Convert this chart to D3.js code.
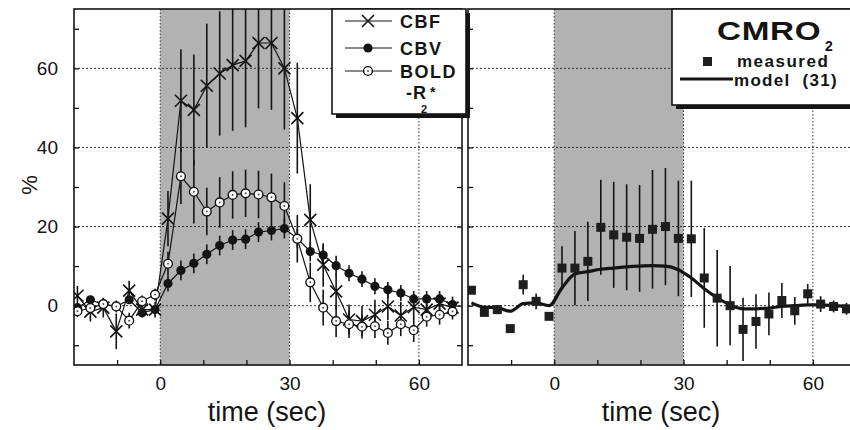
<!DOCTYPE html>
<html>
<head>
<meta charset="utf-8">
<script src="https://cdn.jsdelivr.net/npm/d3@7"></script>
<style>
  body { margin: 0; background: #fff; }
  svg { display: block; font-family: "Liberation Sans", Arial, sans-serif; }
  .tick line { stroke: #111; stroke-width: 1.3; }
  .tick text { fill: #111; font-size: 19px; }
</style>
</head>
<body>
<svg width="850" height="430"></svg>
<script>
// sample times (sec), shared by both panels
const times = [-19.2, -16.2, -13.2, -10.2, -7.2, -4.2, -1.2, 1.8, 4.8, 7.8, 10.8, 13.8, 16.8, 19.8, 22.8,
  25.8, 28.8, 31.8, 34.8, 37.8, 40.8, 43.8, 46.8, 49.8, 52.8, 55.8, 58.8, 61.8, 64.8, 67.8];

const cbf = [2.5, -1.5, -0.5, -6.5, 3.8, -1.0, -1.0, 22, 51.8, 49.5, 55.6, 58.7, 60.8, 61.9, 66.4,
  66.4, 60, 47.4, 21.7, 10.3, 3.6, -3.5, -3.9, -2.3, -0.2, -2.5, -0.4, -1.0, 0.5, -0.5];
const cbfErr = [2.5, 2.5, 2.5, 4.5, 2.5, 2, 2, 7, 13, 14, 15.7, 15.7, 16.6, 16.8, 16.5,
  16.9, 15.5, 14, 9, 5.5, 4.5, 3.8, 3.8, 3.8, 3.5, 3.5, 3, 3, 2.5, 2];

const cbv = [-0.5, 1.5, 0.3, -0.2, 1.5, -1.8, -1.0, 5.6, 8.9, 10.7, 13.0, 15.2, 16.6, 16.8, 18.6,
  19.0, 19.5, 17.0, 13.7, 12.8, 10.1, 8.2, 6.7, 4.9, 4.0, 3.2, 1.7, 1.7, 1.7, 0.3];
const cbvErr = [1, 1, 1, 1, 1, 1, 1, 2, 2.5, 2.5, 2.5, 2.5, 2.5, 2.5, 2.5,
  2.5, 2.5, 2.5, 2.5, 2.5, 2.5, 2, 2, 2, 2, 2, 2, 2, 2, 2];

const bold = [-1.4, -0.6, 0.4, -0.2, -3.8, 1.1, 2.8, 10.6, 32.7, 28.8, 23.8, 26.1, 28.0, 28.4, 28.1,
  27.4, 25.2, 16.9, 5.9, -0.5, -3.9, -4.7, -5.3, -5.2, -6.9, -4.7, -6.2, -2.8, -2.3, -1.5];
const boldErr = [1.5, 1.5, 1.5, 1.5, 2, 1.5, 1.5, 3, 7, 8, 6, 6.4, 6, 6, 6,
  6, 6, 6, 5, 4.5, 4, 3.5, 3, 3, 3, 3, 3, 2.5, 2.5, 2];

const cmro = [3.9, -1.7, -1.0, -5.8, 5.3, 1.1, -2.7, 9.5, 9.5, 11.2, 19.8, 17.9, 17.3, 17.0, 19.3,
  20.0, 17.0, 16.9, 7.0, 1.9, 0, -6.0, -4.0, -2.1, 1.3, -1.3, 3.0, 0.4, -0.2, -0.8];
const cmroErr = [0, 0, 0, 0, 2.5, 2, 0, 5.5, 9.4, 10, 12, 13.4, 13.4, 13.5, 15,
  14.8, 14.6, 14.7, 12.6, 12.2, 10, 8, 6.9, 5.4, 4.4, 3.5, 2.5, 2, 1.5, 1.5];
const cmroModel = [0.7, -0.4, -0.5, -1.4, 0.5, 0.7, 0.0, 4.5, 8.0, 8.6, 9.2, 9.5, 9.8, 10.0, 10.1,
  10.0, 9.1, 7.0, 4.3, 2.0, 0.2, -0.8, -0.8, -0.6, -0.2, 0.0, 0.2, 0.2, 0.0, -0.2];

const xTicks = [-10, 0, 10, 20, 30, 40, 50, 60];
const xLabels = [0, 30, 60];
const yTicks = [-10, 0, 10, 20, 30, 40, 50, 60, 70];
const yLabels = [0, 20, 40, 60];

const ink = "#141414";
const svg = d3.select("svg");
const plotTop = 9, plotBottom = 365;

const y = d3.scaleLinear().domain([-15, 75]).range([plotBottom, plotTop]);
const xL = d3.scaleLinear().domain([-20, 70]).range([74, 462]);
const xR = d3.scaleLinear().domain([-20, 70]).range([468, 856]);

const defs = svg.append("defs");

function panel(x, showY, id) {
  const [x0, x1] = x.range();
  defs.append("clipPath").attr("id", id)
    .append("rect").attr("x", x0).attr("y", plotTop).attr("width", x1 - x0).attr("height", plotBottom - plotTop);

  const g = svg.append("g");
  // stimulus block
  g.append("rect")
    .attr("x", x(0)).attr("y", plotTop)
    .attr("width", x(30) - x(0)).attr("height", plotBottom - plotTop)
    .attr("fill", "#b2b2b2");
  // dotted grid
  g.selectAll(".hg").data(yLabels).enter().append("line")
    .attr("x1", x0).attr("x2", x1)
    .attr("y1", d => y(d)).attr("y2", d => y(d))
    .attr("stroke", "#333").attr("stroke-width", 1).attr("stroke-dasharray", "2,2");
  g.selectAll(".vg").data(xLabels).enter().append("line")
    .attr("x1", d => x(d)).attr("x2", d => x(d))
    .attr("y1", plotTop).attr("y2", plotBottom)
    .attr("stroke", "#333").attr("stroke-width", 1).attr("stroke-dasharray", "1.5,2");

  g.append("g")
    .attr("transform", `translate(0,${plotBottom})`)
    .call(d3.axisBottom(x).tickValues(xTicks).tickSize(-5).tickPadding(12)
      .tickFormat(d => xLabels.includes(d) ? d : ""))
    .call(a => a.select(".domain").remove());
  g.append("g")
    .attr("transform", `translate(${x0},0)`)
    .call(d3.axisLeft(y).tickValues(yTicks).tickSize(-5).tickPadding(16)
      .tickFormat(d => showY && yLabels.includes(d) ? d : ""))
    .call(a => a.select(".domain").remove());
  g.append("g")
    .attr("transform", `translate(${x1},0)`)
    .call(d3.axisRight(y).tickValues(yTicks).tickSize(-5).tickFormat(""))
    .call(a => a.select(".domain").remove());

  g.append("text")
    .attr("x", (x0 + x1) / 2 - 1).attr("y", 421)
    .attr("text-anchor", "middle").attr("font-size", 27).attr("fill", ink)
    .text("time (sec)");

  return svg.append("g").attr("clip-path", `url(#${id})`);
}

const gL = panel(xL, true, "clipL");
const gR = panel(xR, false, "clipR");

svg.append("text")
  .attr("transform", "translate(37,185) rotate(-90)")
  .attr("text-anchor", "middle").attr("font-size", 22).attr("fill", ink)
  .text("%");

// ---- series helpers ----
function errBars(g, x, vals, errs, w) {
  g.append("g").selectAll("line").data(times).enter().append("line")
    .attr("x1", d => x(d)).attr("x2", d => x(d))
    .attr("y1", (d, i) => y(vals[i] + errs[i]))
    .attr("y2", (d, i) => y(vals[i] - errs[i]))
    .attr("stroke", ink).attr("stroke-width", w);
}
function seriesLine(g, x, vals, w, curve) {
  const line = d3.line().x(d => x(d[0])).y(d => y(d[1]));
  if (curve) line.curve(curve);
  g.append("path").datum(times.map((t, i) => [t, vals[i]]))
    .attr("d", line).attr("fill", "none")
    .attr("stroke", ink).attr("stroke-width", w).attr("stroke-linejoin", "round");
}
const xPath = s => `M${-s},${-s}L${s},${s}M${-s},${s}L${s},${-s}`;
function crossMark(g, cx, cy) {
  g.append("path").attr("transform", `translate(${cx},${cy})`)
    .attr("d", xPath(6)).attr("stroke", ink).attr("stroke-width", 1.6).attr("fill", "none");
}
function dotMark(g, cx, cy) {
  g.append("circle").attr("cx", cx).attr("cy", cy).attr("r", 4.6).attr("fill", ink);
}
function ringMark(g, cx, cy) {
  g.append("circle").attr("cx", cx).attr("cy", cy).attr("r", 4.4)
    .attr("fill", "#fff").attr("stroke", ink).attr("stroke-width", 1.4);
  g.append("circle").attr("cx", cx).attr("cy", cy).attr("r", 1).attr("fill", "#555");
}

// ---- left panel series ----
errBars(gL, xL, cbf, cbfErr, 1.6);
errBars(gL, xL, cbv, cbvErr, 1.6);
errBars(gL, xL, bold, boldErr, 1.6);
seriesLine(gL, xL, cbf, 1.2);
seriesLine(gL, xL, cbv, 1.2);
seriesLine(gL, xL, bold, 1.2);
times.forEach((t, i) => crossMark(gL, xL(t), y(cbf[i])));
times.forEach((t, i) => dotMark(gL, xL(t), y(cbv[i])));
times.forEach((t, i) => ringMark(gL, xL(t), y(bold[i])));

// ---- right panel series ----
errBars(gR, xR, cmro, cmroErr, 1.6);
seriesLine(gR, xR, cmroModel, 3.2, d3.curveMonotoneX);
gR.append("g").selectAll("rect").data(times).enter().append("rect")
  .attr("x", d => xR(d) - 4.5).attr("y", (d, i) => y(cmro[i]) - 4.5)
  .attr("width", 9).attr("height", 9).attr("fill", "#1e1e1e");

// frames
svg.append("rect").attr("x", 74).attr("y", plotTop).attr("width", 388).attr("height", plotBottom - plotTop)
  .attr("fill", "none").attr("stroke", ink).attr("stroke-width", 1.6);
svg.append("rect").attr("x", 468).attr("y", plotTop).attr("width", 388).attr("height", plotBottom - plotTop)
  .attr("fill", "none").attr("stroke", ink).attr("stroke-width", 1.6);

// ---- legends ----
function legendBox(x0, y0, w, h) {
  svg.append("rect").attr("x", x0 + 4).attr("y", y0 + 4).attr("width", w).attr("height", h).attr("fill", ink);
  svg.append("rect").attr("x", x0).attr("y", y0).attr("width", w).attr("height", h)
    .attr("fill", "#fff").attr("stroke", ink).attr("stroke-width", 1.6);
}
legendBox(332, 9, 134, 105);
const lg = svg.append("g");
const legendItems = [
  { name: "CBF", yy: 21, mark: crossMark },
  { name: "CBV", yy: 48, mark: dotMark },
  { name: "BOLD", yy: 71, mark: ringMark }
];
legendItems.forEach(d => {
  lg.append("line").attr("x1", 345).attr("x2", 392).attr("y1", d.yy).attr("y2", d.yy)
    .attr("stroke", ink).attr("stroke-width", 1.2);
  d.mark(lg, 368, d.yy);
  lg.append("text").attr("x", 400).attr("y", d.yy + 6.5)
    .attr("font-size", 18).attr("font-weight", "bold").attr("letter-spacing", 1.5).attr("fill", ink)
    .text(d.name);
});
lg.append("text").attr("x", 406).attr("y", 99).attr("font-size", 18).attr("font-weight", "bold")
  .attr("letter-spacing", 1).attr("fill", ink).text("-R");
lg.append("text").attr("x", 421).attr("y", 113).attr("font-size", 11).attr("font-weight", "bold")
  .attr("fill", ink).text("2");
lg.append("text").attr("x", 430).attr("y", 97).attr("font-size", 14).attr("font-weight", "bold")
  .attr("fill", ink).text("*");

legendBox(672, 9, 190, 96);
const rg = svg.append("g");
rg.append("text").attr("transform", "translate(717,40) scale(1.28,1)")
  .attr("font-size", 26).attr("font-weight", "bold").attr("letter-spacing", 0.5)
  .attr("fill", ink).text("CMRO");
rg.append("text").attr("x", 825).attr("y", 51).attr("font-size", 14).attr("font-weight", "bold")
  .attr("fill", ink).text("2");
rg.append("rect").attr("x", 703).attr("y", 57).attr("width", 9).attr("height", 9).attr("fill", "#1e1e1e");
rg.append("text").attr("x", 737).attr("y", 67).attr("font-size", 17).attr("font-weight", "bold")
  .attr("letter-spacing", 1.5).attr("fill", ink).text("measured");
rg.append("line").attr("x1", 680).attr("x2", 733).attr("y1", 79).attr("y2", 79)
  .attr("stroke", ink).attr("stroke-width", 3);
rg.append("text").attr("x", 734).attr("y", 86).attr("font-size", 17).attr("font-weight", "bold")
  .attr("letter-spacing", 1.3).attr("fill", ink).attr("xml:space", "preserve").text("model  (31)");
</script>
</body>
</html>
